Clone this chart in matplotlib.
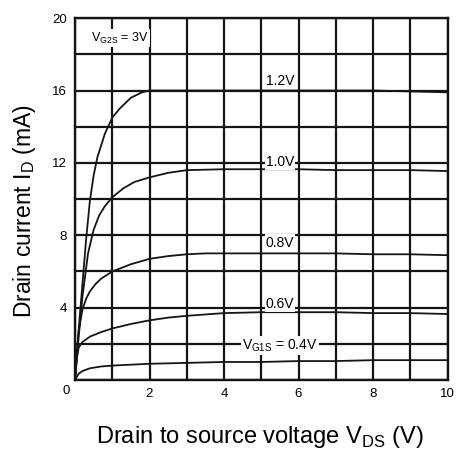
import matplotlib
matplotlib.use("Agg")
import matplotlib.pyplot as plt

plt.rcParams['font.family'] = ['Liberation Sans', 'DejaVu Sans']

# Drain characteristics (VDS in V, ID in mA)
vds_12 = [0, 0.1, 0.2, 0.3, 0.4, 0.5, 0.6, 0.8, 1.0, 1.2, 1.5, 1.8, 2.0, 3, 4, 5, 6, 7, 8, 9, 10]
id_12 = [0, 2.8, 5.3, 7.8, 9.9, 11.3, 12.3, 13.6, 14.5, 15.0, 15.6, 15.9, 16.0, 16.0, 16.0, 16.0, 16.0, 16.0, 16.0, 15.95, 15.9]

vds_10 = [0, 0.1, 0.2, 0.35, 0.5, 0.65, 0.8, 1.0, 1.3, 1.6, 2.0, 2.5, 3.0, 4, 5, 6, 7, 8, 9, 10]
id_10 = [0, 2.4, 4.6, 7.0, 8.3, 9.1, 9.6, 10.1, 10.6, 10.95, 11.2, 11.45, 11.6, 11.65, 11.65, 11.65, 11.6, 11.6, 11.6, 11.55]

vds_08 = [0, 0.05, 0.1, 0.2, 0.3, 0.4, 0.55, 0.7, 1.0, 1.5, 2.0, 2.5, 3.0, 3.5, 4, 5, 6, 7, 8, 9, 10]
id_08 = [0, 1.6, 2.7, 3.9, 4.5, 4.9, 5.3, 5.6, 6.0, 6.4, 6.7, 6.85, 6.95, 7.0, 7.0, 7.0, 7.0, 7.0, 6.95, 6.95, 6.9]

vds_06 = [0, 0.05, 0.1, 0.2, 0.4, 0.7, 1.0, 1.5, 2, 2.5, 3, 4, 5, 6, 7, 8, 9, 10]
id_06 = [0, 1.2, 1.8, 2.1, 2.4, 2.65, 2.85, 3.1, 3.3, 3.45, 3.55, 3.7, 3.75, 3.75, 3.75, 3.7, 3.7, 3.65]

vds_04 = [0, 0.1, 0.2, 0.4, 0.7, 1.0, 1.5, 2, 3, 4, 5, 6, 7, 8, 9, 10]
id_04 = [0, 0.35, 0.5, 0.65, 0.75, 0.8, 0.85, 0.9, 0.95, 1.0, 1.0, 1.05, 1.05, 1.1, 1.1, 1.1]

x_ticks = list(range(0, 11))
x_labels = ['', '', '2', '', '4', '', '6', '', '8', '', '10']
y_ticks = list(range(0, 21, 2))
y_labels = ['' if (v % 4 or v == 0) else str(v) for v in y_ticks]

fig = plt.figure(figsize=(4.6, 4.53), dpi=100)
ax = fig.add_axes([0.163, 0.161, 0.810, 0.799])

ax.set_xlim(0, 10)
ax.set_ylim(0, 20)
ax.set_xticks(x_ticks)
ax.set_xticklabels(x_labels, fontsize=9.5)
ax.set_yticks(y_ticks)
ax.set_yticklabels(y_labels, fontsize=9.5)
ax.tick_params(length=0, pad=6)
ax.grid(True, color='#151515', linewidth=1.6)
ax.set_axisbelow(True)
for s in ax.spines.values():
    s.set_linewidth(1.7)
    s.set_color('#151515')

for vx, iy in [(vds_12, id_12), (vds_10, id_10), (vds_08, id_08),
               (vds_06, id_06), (vds_04, id_04)]:
    ax.plot(vx, iy, color='#151515', linewidth=1.3)

ax.text(-0.15, -0.3, '0', fontsize=9.5, ha='right', va='top')

box = dict(facecolor='white', edgecolor='none', pad=0.8)
ax.text(0.42, 18.9, r'V$_\mathregular{G2S}$ = 3V', fontsize=9, va='center', bbox=box)
ax.text(5.12, 16.5, '1.2V', fontsize=10, va='center')
ax.text(5.12, 12.05, '1.0V', fontsize=10, va='center', bbox=box)
ax.text(5.12, 7.6, '0.8V', fontsize=10, va='center', bbox=box)
ax.text(5.12, 4.2, '0.6V', fontsize=10, va='center', bbox=box)
ax.text(4.48, 1.9, r'V$_\mathregular{G1S}$ = 0.4V', fontsize=10, va='center', bbox=box)

fig.text(0.053, 0.534, r'Drain current I$_\mathregular{D}$ (mA)', fontsize=16.5,
         rotation=90, ha='center', va='center')
fig.text(0.565, 0.036, r'Drain to source voltage V$_\mathregular{DS}$ (V)', fontsize=17,
         ha='center', va='center')

fig.savefig('out.png', dpi=100)
